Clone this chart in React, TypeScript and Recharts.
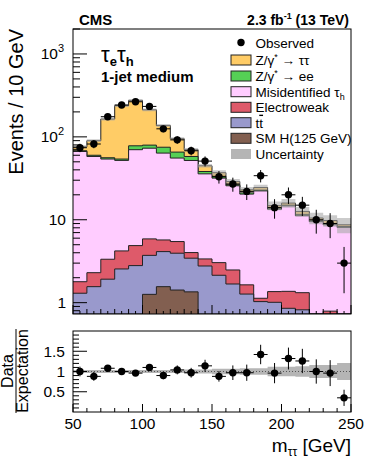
import React from 'react';
import { ComposedChart, Area, Scatter, XAxis, YAxis, ErrorBar, ReferenceLine } from 'recharts';

// ---------- data ----------
const xEdges = [50, 60, 70, 80, 90, 100, 110, 120, 130, 140, 150, 160, 170, 180, 190, 200, 210, 220, 230, 240, 250];
const binCenters = [55, 65, 75, 85, 95, 105, 115, 125, 135, 145, 155, 165, 175, 185, 195, 205, 215, 225, 235, 245];
const binHalfWidth = [5, 5, 5, 5, 5, 5, 5, 5, 5, 5, 5, 5, 5, 5, 5, 5, 5, 5, 5, 5];

const observed = [74, 82, 175, 242, 265, 233, 125, 92, 68, 51, 33, 27, 22, 34, 14, 20, 15, 10, 9, 3];
const observedErr = [8.6, 9.1, 13.2, 15.6, 16.3, 15.3, 11.2, 9.6, 8.2, 7.1, 5.7, 5.2, 4.7, 5.8, 3.7, 4.5, 3.9, 3.2, 3.0, 1.7];

// cumulative stack tops (events / 10 GeV)
const stackZtt = [76, 90, 164, 238, 275, 212, 137, 95, 70, 44.8, 37, 28.9, 23, 24.5, 14.8, 15.9, 12.6, 10.5, 9.8, 8.7];
const stackZee = [68, 60, 56, 54, 78, 79.5, 75, 65.5, 58, 38.2, 33.5, 26.5, 21.2, 22.8, 13.8, 15, 11.6, 9.8, 9.0, 8.3];
const stackFake = [66.6, 58, 54, 52, 70, 73, 63.7, 55.5, 51.9, 35.8, 31.8, 25.7, 20.4, 22.3, 13.4, 14.7, 11.2, 9.5, 8.7, 8.1];
const stackEwk = [1.79, 2.3, 3.34, 4.21, 4.88, 5.88, 5.71, 5.46, 4.02, 3.37, 3.04, 2.48, 1.64, 1.13, 1.36, 1.37, 1.32, 0, 0.79, 0];
const stackTt = [1.3, 1.56, 1.92, 2.55, 2.8, 3.72, 4.13, 3.95, 3.44, 2.77, 2.14, 1.68, 1.27, 1.03, 1.01, 0.855, 0.82, 0, 0, 0];
const stackHiggs = [0, 0, 0, 0, 0, 1.26, 1.56, 1.42, 1.35, 0, 0, 0, 0, 0, 0, 0, 0, 0, 0, 0];

// relative background uncertainty
const relUnc = [0.04, 0.04, 0.04, 0.04, 0.04, 0.04, 0.04, 0.04, 0.05, 0.05, 0.07, 0.07, 0.08, 0.08, 0.12, 0.12, 0.13, 0.16, 0.16, 0.21];

// data / expectation
const ratio = [1.0, 0.88, 1.08, 1.0, 0.96, 1.1, 0.9, 1.04, 0.97, 1.14, 0.88, 0.97, 0.97, 1.42, 0.96, 1.32, 1.26, 1.0, 0.96, 0.35];
const ratioErr = [0.12, 0.11, 0.08, 0.07, 0.06, 0.07, 0.09, 0.11, 0.12, 0.15, 0.13, 0.18, 0.2, 0.24, 0.25, 0.27, 0.3, 0.3, 0.32, 0.2];

const topYTicks = [0.8, 0.9, 1, 2, 3, 4, 5, 6, 7, 8, 9, 10, 20, 30, 40, 50, 60, 70, 80, 90, 100, 200, 300, 400, 500, 600, 700, 800, 900, 1000, 2000];
const topXTicks = [50, 55, 60, 65, 70, 75, 80, 85, 90, 95, 100, 105, 110, 115, 120, 125, 130, 135, 140, 145, 150, 155, 160, 165, 170, 175, 180, 185, 190, 195, 200, 205, 210, 215, 220, 225, 230, 235, 240, 245, 250];
const botXTicks = [50, 60, 70, 80, 90, 100, 110, 120, 130, 140, 150, 160, 170, 180, 190, 200, 210, 220, 230, 240, 250];
const ratioTicks = [0.1, 0.2, 0.3, 0.4, 0.5, 0.6, 0.7, 0.8, 0.9, 1, 1.1, 1.2, 1.3, 1.4, 1.5, 1.6, 1.7, 1.8, 1.9];
const ratioLabels = [0.5, 1, 1.5];

// ---------- styling / layout ----------
const FONT = '"Liberation Sans", Arial, Helvetica, sans-serif';
const W = 366;
const Y_MIN = 0.73;
const Y_MAX = 2000;
const TOP = { left: 73, right: 351, top: 29, bottom: 314 };
const TOP_H = 320;
const BOT_TOP_PX = 320; // bottom chart div offset
const BOT_H = 143;
const BOT = { top: 11, bottom: 92 }; // local coordinates

const COLORS = {
  ztt: '#FFCC66',
  zee: '#55D055',
  fake: '#FFCCFF',
  ewk: '#DE5A6A',
  tt: '#9999CC',
  higgs: '#825F50',
  unc: '#A8A8A8',
};

const pos = (v: number) => (v > 0 ? v : Y_MIN);

const stackRows = xEdges.map((x, i) => {
  const k = Math.min(i, 19);
  const tot = stackZtt[k];
  return {
    x,
    ztt: pos(stackZtt[k]),
    zee: pos(stackZee[k]),
    fake: pos(stackFake[k]),
    ewk: pos(stackEwk[k]),
    tt: pos(stackTt[k]),
    higgs: pos(stackHiggs[k]),
    band: [tot * (1 - relUnc[k]), tot * (1 + relUnc[k])],
  };
});

const obsRows = binCenters.map((x, i) => ({ x, obs: observed[i], ey: observedErr[i], ex: binHalfWidth[i] }));

const ratioBandRows = xEdges.map((x, i) => {
  const k = Math.min(i, 19);
  return { x, rband: [1 - relUnc[k], 1 + relUnc[k]] };
});

const ratioRows = binCenters.map((x, i) => ({ x, r: ratio[i], ey: ratioErr[i], ex: binHalfWidth[i] }));

// ---------- ticks ----------
function TopYTick(props: any) {
  const { y, payload } = props;
  const v = payload.value as number;
  const exp = Math.round(Math.log10(v));
  const major = Math.abs(v - Math.pow(10, exp)) < 1e-6;
  const x0 = TOP.left;
  return (
    <g>
      <line x1={x0} x2={x0 + (major ? 14 : 7)} y1={y} y2={y} stroke="#000" strokeWidth={1} />
      {major && exp <= 1 && (
        <text x={66} y={y + 5.5} textAnchor="end" fontSize={15.5} fontFamily={FONT} fill="#000">
          {exp === 0 ? '1' : '10'}
        </text>
      )}
      {major && exp > 1 && (
        <text x={64} y={y + 5.5} textAnchor="end" fontSize={15.5} fontFamily={FONT} fill="#000">
          10<tspan dy={-7} fontSize={11}>{exp}</tspan>
        </text>
      )}
    </g>
  );
}

function TopXTick(props: any) {
  const { x, payload } = props;
  const v = payload.value as number;
  const len = v % 50 === 0 ? 9 : v % 10 === 0 ? 5 : 3;
  return <line x1={x} x2={x} y1={TOP.bottom} y2={TOP.bottom - len} stroke="#000" strokeWidth={1} />;
}

function BotXTick(props: any) {
  const { x, payload } = props;
  const v = payload.value as number;
  const major = v % 50 === 0;
  return (
    <g>
      <line x1={x} x2={x} y1={BOT.bottom} y2={BOT.bottom - (major ? 8 : 4)} stroke="#000" strokeWidth={1} />
      {major && (
        <text x={x} y={BOT.bottom + 17} textAnchor="middle" fontSize={15.5} fontFamily={FONT} fill="#000">
          {v}
        </text>
      )}
    </g>
  );
}

function RatioYTick(props: any) {
  const { y, payload } = props;
  const v = payload.value as number;
  const major = ratioLabels.some((m) => Math.abs(m - v) < 1e-6);
  return (
    <g>
      <line x1={TOP.left} x2={TOP.left + (major ? 14 : 6)} y1={y} y2={y} stroke="#000" strokeWidth={1} />
      {major && (
        <text x={65} y={y + 5.5} textAnchor="end" fontSize={15.5} fontFamily={FONT} fill="#000">
          {String(v)}
        </text>
      )}
    </g>
  );
}

const Dot = (props: any) => <circle cx={props.cx} cy={props.cy} r={3.7} fill="#000" />;

// ---------- legend ----------
const legendItems = [
  { key: 'obs', y: 42.5 },
  { key: 'ztt', y: 60 },
  { key: 'zee', y: 76 },
  { key: 'fake', y: 91.7 },
  { key: 'ewk', y: 107.3 },
  { key: 'tt', y: 122.7 },
  { key: 'higgs', y: 138.3 },
  { key: 'unc', y: 154 },
];

function LegendLabel({ k, x, y }: { k: string; x: number; y: number }) {
  const common = { x, y, fontSize: 13.5, fontFamily: FONT, fill: '#000' } as any;
  switch (k) {
    case 'obs':
      return <text {...common}>Observed</text>;
    case 'ztt':
      return (
        <text {...common}>
          Z/γ<tspan dy={-5} fontSize={9}>*</tspan>
          <tspan dy={5}> → ττ</tspan>
        </text>
      );
    case 'zee':
      return (
        <text {...common}>
          Z/γ<tspan dy={-5} fontSize={9}>*</tspan>
          <tspan dy={5}> → ee</tspan>
        </text>
      );
    case 'fake':
      return (
        <text {...common}>
          Misidentified τ<tspan dy={3} fontSize={9}>h</tspan>
        </text>
      );
    case 'ewk':
      return <text {...common}>Electroweak</text>;
    case 'tt':
      return (
        <text {...common}>
          t<tspan style={{ textDecoration: 'overline' }}>t</tspan>
        </text>
      );
    case 'higgs':
      return <text {...common}>SM H(125 GeV)</text>;
    default:
      return <text {...common}>Uncertainty</text>;
  }
}

function Legend() {
  const bx = 231;
  const bw = 20;
  const bh = 10;
  const tx = 255.5;
  return (
    <g>
      {legendItems.map((it) => {
        const cy = it.y;
        let box: any = null;
        if (it.key === 'obs') box = <circle cx={bx + bw / 2} cy={cy} r={3.7} fill="#000" />;
        else if (it.key === 'unc') box = <rect x={bx} y={cy - bh / 2} width={bw} height={bh} fill="#B5B5B5" />;
        else
          box = (
            <rect x={bx} y={cy - bh / 2} width={bw} height={bh} fill={(COLORS as any)[it.key]} stroke="#222" strokeWidth={1} />
          );
        return (
          <g key={it.key}>
            {box}
            <LegendLabel k={it.key} x={tx} y={cy + 5} />
          </g>
        );
      })}
    </g>
  );
}

// ---------- app ----------
export default function App() {
  const areaCommon = {
    type: 'stepAfter' as const,
    isAnimationActive: false,
    stroke: '#222',
    strokeWidth: 1,
    fillOpacity: 1,
    dot: false,
    activeDot: false,
  };
  return (
    <div style={{ position: 'absolute', left: 0, top: 0, width: W, height: 463, background: '#fff', fontFamily: FONT }}>
      <div style={{ position: 'absolute', left: 0, top: 0 }}>
        <ComposedChart
          width={W}
          height={TOP_H}
          data={stackRows}
          margin={{ top: TOP.top, right: W - TOP.right, bottom: 0, left: 0 }}
        >
          <XAxis
            dataKey="x"
            type="number"
            domain={[50, 250]}
            allowDataOverflow
            ticks={topXTicks}
            interval={0}
            height={TOP_H - TOP.bottom}
            tickLine={false}
            axisLine={false}
            tick={<TopXTick />}
          />
          <YAxis
            type="number"
            scale="log"
            domain={[Y_MIN, Y_MAX]}
            allowDataOverflow
            ticks={topYTicks}
            interval={0}
            width={TOP.left}
            tickLine={false}
            axisLine={false}
            tick={<TopYTick />}
          />
          <Area {...areaCommon} dataKey="ztt" fill={COLORS.ztt} />
          <Area {...areaCommon} dataKey="zee" fill={COLORS.zee} />
          <Area {...areaCommon} dataKey="fake" fill={COLORS.fake} />
          <Area {...areaCommon} dataKey="ewk" fill={COLORS.ewk} />
          <Area {...areaCommon} dataKey="tt" fill={COLORS.tt} />
          <Area {...areaCommon} dataKey="higgs" fill={COLORS.higgs} />
          <Area
            type="stepAfter"
            dataKey="band"
            isAnimationActive={false}
            stroke="none"
            fill={COLORS.unc}
            fillOpacity={0.6}
            dot={false}
            activeDot={false}
          />
          <Scatter data={obsRows} dataKey="obs" isAnimationActive={false} shape={<Dot />}>
            <ErrorBar dataKey="ey" direction="y" width={0} stroke="#000" strokeWidth={1} isAnimationActive={false} />
            <ErrorBar dataKey="ex" direction="x" width={0} stroke="#000" strokeWidth={1} isAnimationActive={false} />
          </Scatter>
        </ComposedChart>
      </div>

      <div style={{ position: 'absolute', left: 0, top: BOT_TOP_PX }}>
        <ComposedChart
          width={W}
          height={BOT_H}
          data={ratioBandRows}
          margin={{ top: BOT.top, right: W - TOP.right, bottom: 0, left: 0 }}
        >
          <XAxis
            dataKey="x"
            type="number"
            domain={[50, 250]}
            allowDataOverflow
            ticks={botXTicks}
            interval={0}
            height={BOT_H - BOT.bottom}
            tickLine={false}
            axisLine={false}
            tick={<BotXTick />}
          />
          <YAxis
            type="number"
            domain={[0, 2]}
            allowDataOverflow
            ticks={ratioTicks}
            interval={0}
            width={TOP.left}
            tickLine={false}
            axisLine={false}
            tick={<RatioYTick />}
          />
          <Area
            type="stepAfter"
            dataKey="rband"
            isAnimationActive={false}
            stroke="none"
            fill="#B5B5B5"
            fillOpacity={1}
            dot={false}
            activeDot={false}
          />
          <ReferenceLine y={1} stroke="#555" strokeDasharray="1 2" strokeWidth={1} />
          <Scatter data={ratioRows} dataKey="r" isAnimationActive={false} shape={<Dot />}>
            <ErrorBar dataKey="ey" direction="y" width={0} stroke="#000" strokeWidth={1} isAnimationActive={false} />
            <ErrorBar dataKey="ex" direction="x" width={0} stroke="#000" strokeWidth={1} isAnimationActive={false} />
          </Scatter>
        </ComposedChart>
      </div>

      <svg
        width={W}
        height={463}
        style={{ position: 'absolute', left: 0, top: 0, pointerEvents: 'none' }}
      >
        {/* frames */}
        <rect x={TOP.left} y={TOP.top} width={TOP.right - TOP.left} height={TOP.bottom - TOP.top} fill="none" stroke="#000" strokeWidth={1} />
        <rect
          x={TOP.left}
          y={BOT_TOP_PX + BOT.top}
          width={TOP.right - TOP.left}
          height={BOT.bottom - BOT.top}
          fill="none"
          stroke="#000"
          strokeWidth={1}
        />
        {/* header */}
        <text x={79} y={25} fontSize={15} fontWeight="bold" fontFamily={FONT} fill="#000">
          CMS
        </text>
        <text x={349} y={25} fontSize={14} fontWeight="bold" fontFamily={FONT} textAnchor="end" fill="#000">
          2.3 fb<tspan dy={-6} fontSize={9}>-1</tspan>
          <tspan dy={6}> (13 TeV)</tspan>
        </text>
        {/* channel / category */}
        <text x={101} y={62} fontSize={22} fontFamily={FONT} fill="#000">
          τ<tspan dy={4} fontSize={13} fontWeight="bold">e</tspan>
          <tspan dy={-4}>τ</tspan>
          <tspan dy={4} fontSize={13} fontWeight="bold">h</tspan>
        </text>
        <text x={101} y={82} fontSize={15} fontWeight="bold" fontFamily={FONT} fill="#000">
          1-jet medium
        </text>
        <Legend />
        {/* axis titles */}
        <text
          x={0}
          y={0}
          transform={`translate(23, ${TOP.top}) rotate(-90)`}
          textAnchor="end"
          fontSize={20}
          fontFamily={FONT}
          fill="#000"
        >
          Events / 10 GeV
        </text>
        <g transform={`translate(0, 371) rotate(-90)`}>
          <text x={0} y={13} textAnchor="middle" fontSize={16} fontFamily={FONT} fill="#000">
            Data
          </text>
          <line x1={-42} x2={42} y1={16} y2={16} stroke="#000" strokeWidth={1} />
          <text x={0} y={28} textAnchor="middle" fontSize={16} fontFamily={FONT} fill="#000">
            Expectation
          </text>
        </g>
        <text x={351} y={452} textAnchor="end" fontSize={19} fontFamily={FONT} fill="#000">
          m<tspan dy={4} fontSize={12}>ττ</tspan>
          <tspan dy={-4}> [GeV]</tspan>
        </text>
      </svg>
    </div>
  );
}
